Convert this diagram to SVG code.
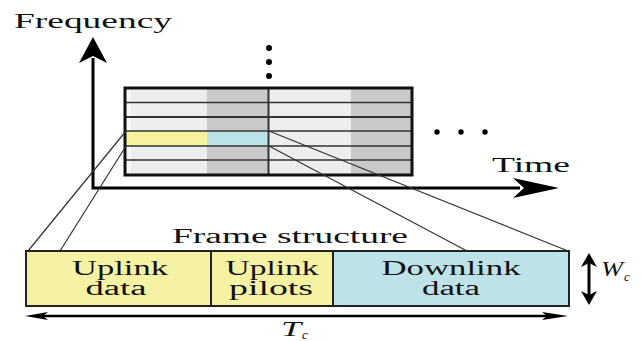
<svg xmlns="http://www.w3.org/2000/svg" width="642" height="341" viewBox="0 0 642 341">
<style>
text{font-family:"Liberation Serif","Times New Roman",serif;fill:#111}
.lbl{font-size:20px}
.box{font-size:20px;text-anchor:middle}
.thin{stroke:#333;stroke-width:1.2;fill:none}
.axis{stroke:#000;stroke-width:3;fill:none}
</style>
<rect width="642" height="341" fill="#fff"/>
<g id="axes">
<path class="axis" d="M93,58 V188 H520"/>
<path d="M93,37 L107,63 L93,56 L79,63 Z" fill="#000"/>
<path d="M559,188 L513,178 L524,188 L513,198 Z" fill="#000"/>
<text class="lbl" x="14" y="28" textLength="158" lengthAdjust="spacingAndGlyphs">Frequency</text>
<text class="lbl" x="492" y="172" textLength="78" lengthAdjust="spacingAndGlyphs">Time</text>
</g>
<g id="grid">
<rect x="125" y="88" width="287" height="87" fill="#eceeed"/>
<rect x="126" y="88" width="5" height="87" fill="#f6f7f6"/>
<rect x="207" y="88" width="62" height="87" fill="#c9c9cb"/>
<rect x="351" y="88" width="61" height="87" fill="#c9c9cb"/>
<rect x="126" y="131" width="81" height="15" fill="#f4f29d"/>
<rect x="207" y="131" width="62" height="15" fill="#bae3e8"/>
<g stroke="#333" stroke-width="1.5">
<line x1="125" y1="102.5" x2="412" y2="102.5"/>
<line x1="125" y1="117" x2="412" y2="117" stroke-width="2"/>
<line x1="125" y1="131" x2="412" y2="131"/>
<line x1="125" y1="146" x2="412" y2="146"/>
<line x1="125" y1="160" x2="412" y2="160"/>
<line x1="268.5" y1="88" x2="268.5" y2="175" stroke-width="2"/>
</g>
<rect x="125" y="88" width="287" height="87" fill="none" stroke="#111" stroke-width="3"/>
</g>
<g id="dots" fill="#000">
<circle cx="269" cy="48" r="3"/>
<circle cx="269" cy="62" r="3"/>
<circle cx="269" cy="76" r="3"/>
<circle cx="437" cy="132" r="2.7"/>
<circle cx="461" cy="132" r="2.7"/>
<circle cx="485" cy="132" r="2.7"/>
</g>
<g id="connectors">
<line class="thin" x1="126" y1="131" x2="28" y2="251"/>
<line class="thin" x1="126" y1="146" x2="60" y2="251"/>
<line class="thin" x1="269" y1="131" x2="568" y2="251"/>
<line class="thin" x1="269" y1="146" x2="467" y2="251"/>
</g>
<text class="lbl" x="172" y="243" textLength="236" lengthAdjust="spacingAndGlyphs">Frame structure</text>
<g id="frame">
<g id="uplink-data">
<rect x="26" y="251" width="185" height="55" fill="#f5f2a4" stroke="#222" stroke-width="2"/>
<text class="box" x="120" y="275" textLength="96" lengthAdjust="spacingAndGlyphs">Uplink</text>
<text class="box" x="116" y="295" textLength="61" lengthAdjust="spacingAndGlyphs">data</text>
</g>
<g id="uplink-pilots">
<rect x="211" y="251" width="122" height="55" fill="#f5f2a4" stroke="#222" stroke-width="2"/>
<text class="box" x="272" y="275" textLength="93" lengthAdjust="spacingAndGlyphs">Uplink</text>
<text class="box" x="271" y="295" textLength="84" lengthAdjust="spacingAndGlyphs">pilots</text>
</g>
<g id="downlink-data">
<rect x="333" y="251" width="236" height="55" fill="#bde3e8" stroke="#222" stroke-width="2"/>
<text class="box" x="451" y="275" textLength="139" lengthAdjust="spacingAndGlyphs">Downlink</text>
<text class="box" x="451" y="295" textLength="58" lengthAdjust="spacingAndGlyphs">data</text>
</g>
</g>
<g id="dimensions">
<line x1="40" y1="316" x2="555" y2="316" stroke="#000" stroke-width="2.5"/>
<path d="M25,316 L48,312 L43,316 L48,320 Z" fill="#000"/>
<path d="M568,316 L542,312 L547,316 L542,320 Z" fill="#000"/>
<line x1="589" y1="262" x2="589" y2="296" stroke="#000" stroke-width="3"/>
<path d="M589,253 L597,267 L589,263 L581,267 Z" fill="#000"/>
<path d="M589,305 L597,291 L589,295 L581,291 Z" fill="#000"/>
<text x="281" y="336" font-size="20" font-style="italic" textLength="20" lengthAdjust="spacingAndGlyphs">T</text>
<text x="302" y="339" font-size="13" font-style="italic">c</text>
<text x="601" y="276" font-size="20" font-style="italic" textLength="22" lengthAdjust="spacingAndGlyphs">W</text>
<text x="624" y="281" font-size="13" font-style="italic">c</text>
</g>
</svg>
